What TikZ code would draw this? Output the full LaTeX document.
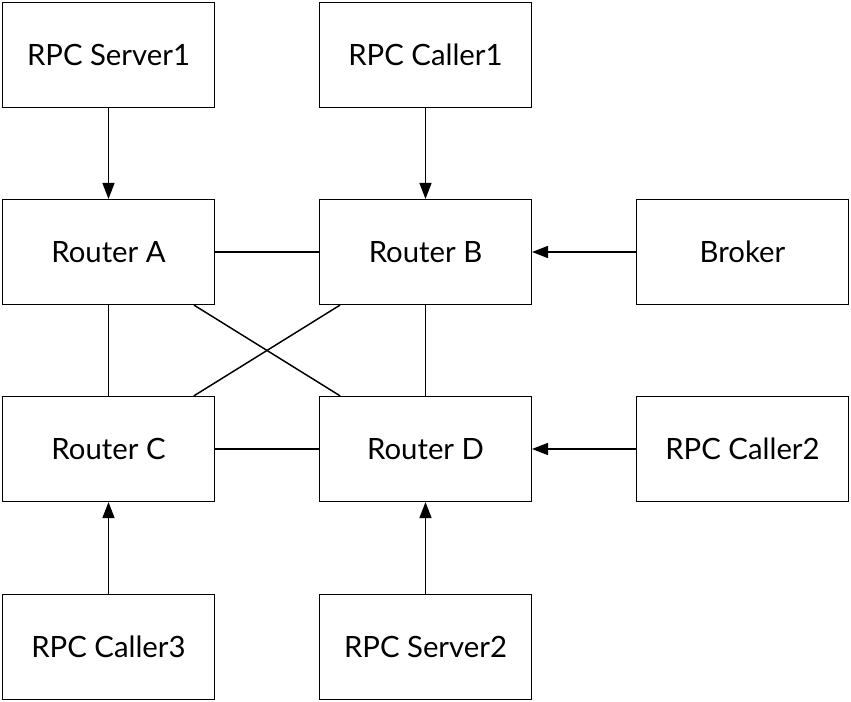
\documentclass[tikz,border=0pt]{standalone}
\usepackage{fontspec}
\setmainfont{Lato}
\usepackage{tikz}
\usetikzlibrary{positioning,arrows.meta}

\begin{document}
\begin{tikzpicture}[x=0.75pt,y=-0.75pt,>={Triangle[length=12pt,width=9pt]},
  box/.style={draw,line width=1.1pt,minimum width=158.7pt,minimum height=78.5pt,inner sep=0pt,font=\fontsize{22}{26}\selectfont},
  link/.style={line width=1.1pt}]
\useasboundingbox (0,0) rectangle (851,702);
\node[box] (srv1) at (108.5,55) {RPC Server1};
\node[box] (call1) at (425.5,55) {RPC Caller1};
\node[box] (ra) at (108.5,252) {Router A};
\node[box] (rb) at (425.5,252) {Router B};
\node[box] (broker) at (742.5,252) {Broker};
\node[box] (rc) at (108.5,449) {Router C};
\node[box] (rd) at (425.5,449) {Router D};
\node[box] (call2) at (742.5,449) {RPC Caller2};
\node[box] (call3) at (108.5,647) {RPC Caller3};
\node[box] (srv2) at (425.5,647) {RPC Server2};
% feeds into the routers
\draw[->,link] (srv1) -- (ra);
\draw[->,link] (call1) -- (rb);
\draw[->,link] (broker) -- (rb);
\draw[->,link] (call2) -- (rd);
\draw[->,link] (call3) -- (rc);
\draw[->,link] (srv2) -- (rd);
% router mesh
\draw[link] (ra) -- (rb);
\draw[link] (rc) -- (rd);
\draw[link] (ra) -- (rc);
\draw[link] (rb) -- (rd);
\draw[link] (ra) -- (rd);
\draw[link] (rb) -- (rc);
\end{tikzpicture}
\end{document}
